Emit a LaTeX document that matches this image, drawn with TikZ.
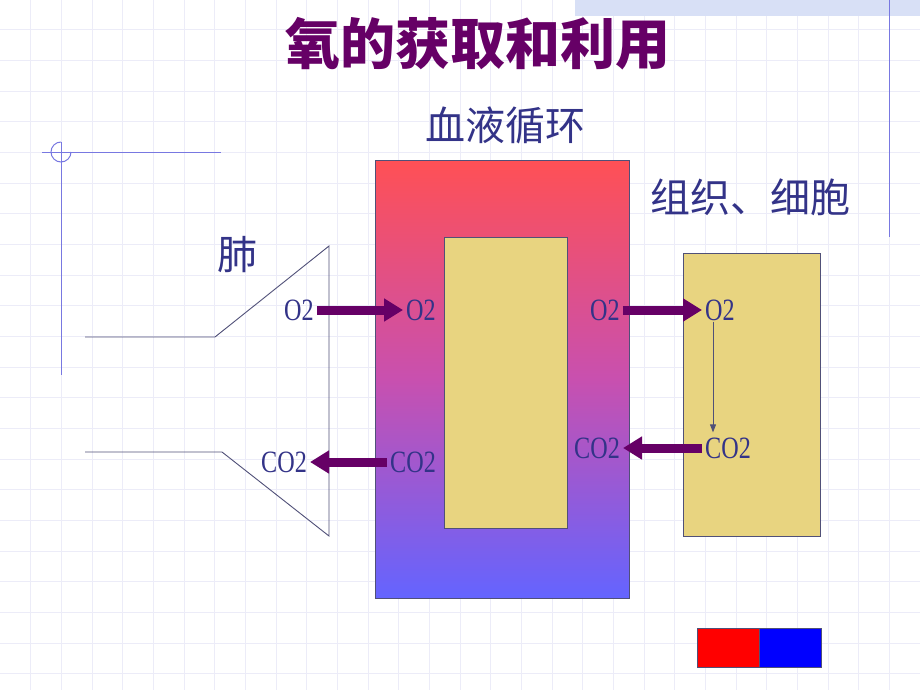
\documentclass[tikz,border=0pt]{standalone}
\usepackage{fontspec}
\usetikzlibrary{arrows.meta}
\newfontfamily\cjk{Noto Sans CJK SC}
\newfontfamily\latinf[FakeStretch=0.78]{Liberation Serif}
\definecolor{titlec}{RGB}{102,0,102}
\definecolor{labc}{RGB}{51,51,136}
\definecolor{arrc}{RGB}{102,0,102}
\definecolor{gridc}{RGB}{236,236,248}
\definecolor{decoc}{RGB}{120,120,225}
\definecolor{yelc}{RGB}{232,212,128}
\definecolor{edgec}{RGB}{80,80,120}
\definecolor{bandc}{RGB}{216,224,246}
\tikzset{
  gridline/.style={draw=gridc, line width=0.8pt},
  deco/.style={draw=decoc, line width=1pt},
  cjklabel/.style={text=labc, font=\cjk\fontsize{40}{44}\selectfont, inner sep=0pt},
  gas/.style={text=labc, font=\latinf\fontsize{31}{34}\selectfont, inner sep=3pt},
  bigarrow/.style={draw=arrc, line width=9pt, -{Triangle[width=22pt,length=19pt]}},
  thinarrow/.style={draw=edgec, line width=0.9pt, -{Triangle[width=6pt,length=8pt]}},
  box/.style={draw=edgec, line width=0.8pt},
  lung/.style={draw=edgec, line width=0.9pt}
}
\begin{document}
\begin{tikzpicture}[x=1pt,y=-1pt]
\useasboundingbox (0,0) rectangle (920,690);
\fill[white] (0,0) rectangle (920,690);
% grid
\foreach \i in {1,...,30} {\draw[gridline] ({\i*30.667},0) -- ({\i*30.667},690);}
\foreach \j in {1,...,22} {\draw[gridline] (0,{\j*30.667-1}) -- (920,{\j*30.667-1});}
% top band
\fill[bandc] (575,0) rectangle (920,16);
% decorations
\draw[deco] (889,0) -- (889,237);
\draw[deco] (42,152) -- (221,152);
\draw[deco] (61,142) -- (61,375);
\draw[deco] (61,142) arc[start angle=270, end angle=0, radius=10];
% title
\node[text=titlec, font=\cjk\bfseries\fontsize{55}{60}\selectfont, inner sep=0pt] (title) at (478,44) {氧的获取和利用};
\node[cjklabel] (blood) at (505,125) {血液循环};
\node[cjklabel] (tissue) at (750,197) {组织、细胞};
\node[cjklabel] (lungt) at (237,255) {肺};
% lung outline
\draw[lung] (85,337) -- (215,337) -- (329,246) -- (329,536) -- (222,452) -- (85,452);
% blood rect
\shade[top color={rgb,255:red,255;green,80;blue,85}, bottom color={rgb,255:red,100;green,100;blue,255}, middle color={rgb,255:red,200;green,80;blue,175}] (375,160) rectangle (629,598);
\draw[box] (375,160) rectangle (629,598);
\node[box, fill=yelc, minimum width=123pt, minimum height=291pt, inner sep=0pt] (inner) at (505.5,382.5) {};
\node[box, fill=yelc, minimum width=137pt, minimum height=283pt, inner sep=0pt] (cell) at (751.5,394.5) {};
% gas labels
\node[gas] (o2L) at (299,310) {O2};
\node[gas] (o2M) at (421,310) {O2};
\node[gas] (co2L) at (284,462) {CO2};
\node[gas] (co2M) at (413,462) {CO2};
\node[gas] (o2R1) at (605,310) {O2};
\node[gas] (o2R2) at (720,310) {O2};
\node[gas] (co2R1) at (597,448) {CO2};
\node[gas] (co2R2) at (728,448) {CO2};
% arrows
\draw[bigarrow] (o2L.east) -- (o2M.west);
\draw[bigarrow] (co2M.west) -- (co2L.east);
\draw[bigarrow] (o2R1.east) -- (o2R2.west);
\draw[bigarrow] (co2R2.west) -- (co2R1.east);
\draw[thinarrow] ([xshift=-7pt,yshift=2pt]o2R2.south) -- ([xshift=-7pt,yshift=2pt]o2R2.south |- co2R2.north);
% legend
\node[draw=edgec, line width=0.6pt, fill=red, minimum width=62pt, minimum height=39pt, inner sep=0pt] (legr) at (728,647.5) {};
\node[draw=edgec, line width=0.6pt, fill=blue, minimum width=62pt, minimum height=39pt, inner sep=0pt, anchor=west] (legb) at (legr.east) {};
\end{tikzpicture}
\end{document}
